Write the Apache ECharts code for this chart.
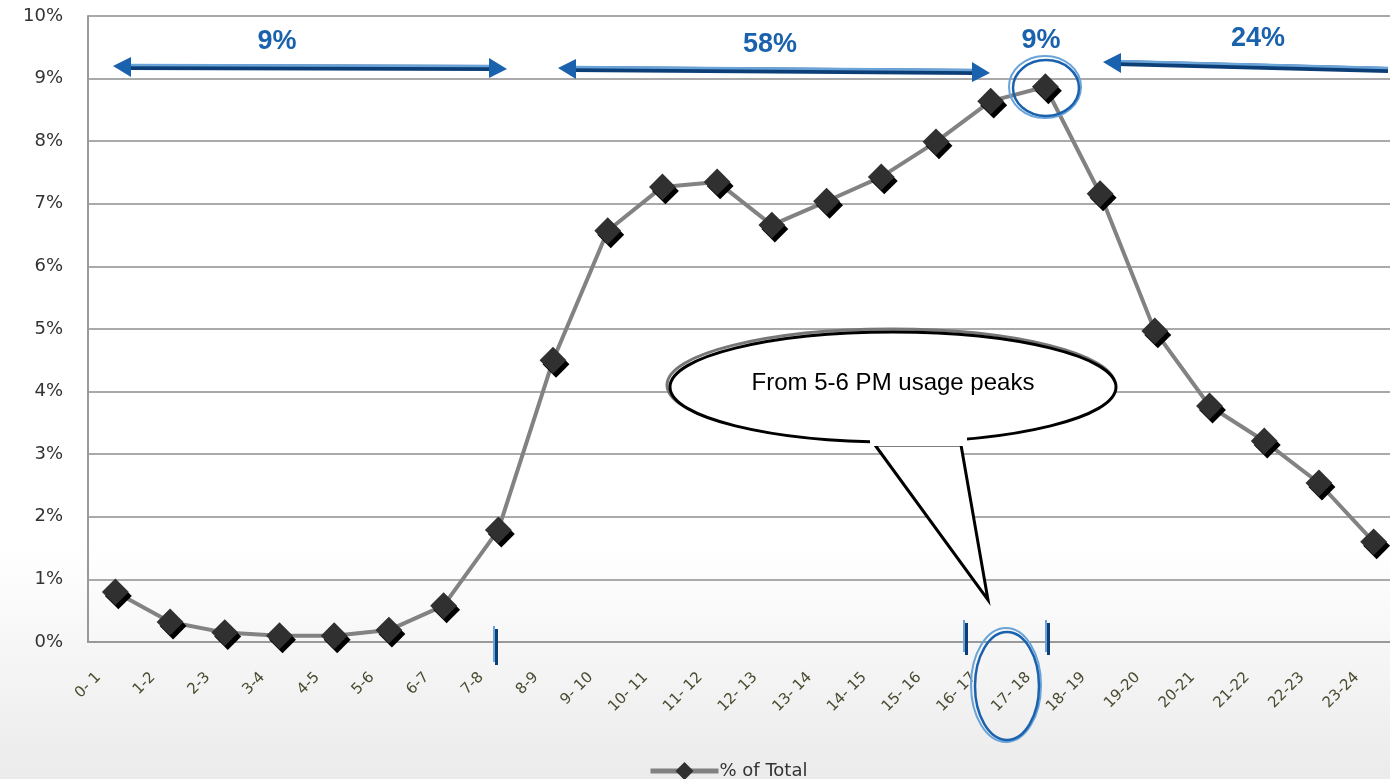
<!DOCTYPE html>
<html>
<head>
<meta charset="utf-8">
<script src="https://cdn.jsdelivr.net/npm/echarts@6/dist/echarts.min.js"></script>
<style>
html,body{margin:0;padding:0;background:#fff;overflow:hidden;width:1390px;height:779px;}
#c{width:1420px;height:779px;}
</style>
</head>
<body>
<div id="c"></div>
<script>
const categories = ["0- 1","1-2","2-3","3-4","4-5","5-6","6-7","7-8","8-9","9- 10","10- 11","11- 12","12- 13","13- 14","14- 15","15- 16","16- 17","17- 18","18- 19","19-20","20-21","21-22","22-23","23-24"];
const pctOfTotal = [0.80,0.32,0.15,0.10,0.10,0.19,0.58,1.79,4.50,6.57,7.27,7.35,6.66,7.04,7.43,7.99,8.64,8.87,7.16,4.97,3.77,3.21,2.54,1.60];
const yTicks = [0,1,2,3,4,5,6,7,8,9,10];
const seriesName = "% of Total";
const spanLabels = ["9%","58%","9%","24%"];
const calloutText = "From 5-6 PM usage peaks";

const chart = echarts.init(document.getElementById('c'));

const BLUE = '#1a62ad', BLUE_L = '#6aa3d8', BLUE_D = '#0c3f78';

function dblArrow(x1, y1, x2, y2, leftHead, rightHead) {
  const els = [];
  els.push({type:'line', shape:{x1:x1+10,y1:y1,x2:x2-10,y2:y2}, style:{stroke:BLUE_D,lineWidth:6}, z:50});
  els.push({type:'line', shape:{x1:x1+10,y1:y1-2,x2:x2-10,y2:y2-2}, style:{stroke:BLUE_L,lineWidth:2.5}, z:51});
  if (leftHead) els.push({type:'polygon', shape:{points:[[x1-4,y1-1],[x1+14,y1-10],[x1+14,y1+10]]}, style:{fill:BLUE}, z:52});
  if (rightHead) els.push({type:'polygon', shape:{points:[[x2+4,y2+1],[x2-14,y2-10],[x2-14,y2+10]]}, style:{fill:BLUE}, z:52});
  return els;
}
function spanText(x, y, t) {
  return {type:'text', x:x, y:y, style:{text:t, fill:BLUE, font:'bold 27px "Liberation Sans", Arial, sans-serif', textAlign:'center', textVerticalAlign:'middle'}, z:53};
}
function dblEllipse(cx, cy, rx, ry) {
  return [
    {type:'ellipse', shape:{cx:cx, cy:cy, rx:rx, ry:ry}, style:{fill:'none', stroke:BLUE_L, lineWidth:2}, z:55},
    {type:'ellipse', shape:{cx:cx+1, cy:cy+1, rx:rx-3, ry:ry-3}, style:{fill:'none', stroke:BLUE, lineWidth:2.5}, z:55}
  ];
}
function tickBar(x, y1, y2) {
  return [
    {type:'rect', shape:{x:x, y:y1, width:2, height:y2-y1}, style:{fill:BLUE_L}, z:55},
    {type:'rect', shape:{x:x+2, y:y1+3, width:3, height:y2-y1}, style:{fill:BLUE_D}, z:55}
  ];
}

let graphics = [];
graphics = graphics.concat(dblArrow(117, 67, 503, 68, true, true));
graphics = graphics.concat(dblArrow(562, 69, 986, 72, true, true));
graphics = graphics.concat(dblArrow(1107, 63, 1398, 70, true, false));
graphics.push(spanText(277, 42, spanLabels[0]));
graphics.push(spanText(770, 45, spanLabels[1]));
graphics.push(spanText(1041, 41, spanLabels[2]));
graphics.push(spanText(1258, 39, spanLabels[3]));
graphics = graphics.concat(dblEllipse(1045, 87, 36, 31));
graphics = graphics.concat(dblEllipse(1006, 685, 35, 57));
graphics = graphics.concat(tickBar(493, 626, 662));
graphics = graphics.concat(tickBar(963, 620, 652));
graphics = graphics.concat(tickBar(1045, 620, 652));
// callout bubble
graphics.push({type:'ellipse', shape:{cx:891, cy:385, rx:224, ry:56}, style:{fill:'#fff', stroke:'#777', lineWidth:3}, z:60});
graphics.push({type:'ellipse', shape:{cx:893, cy:387, rx:223, ry:55}, style:{fill:'#fff', stroke:'#000', lineWidth:3}, z:61});
graphics.push({type:'polygon', shape:{points:[[875,445],[988,600],[961,445]]}, style:{fill:'#fff', stroke:'#000', lineWidth:3, lineJoin:'miter'}, z:62});
graphics.push({type:'rect', shape:{x:870, y:436, width:97, height:10}, style:{fill:'#fff'}, z:63});
graphics.push({type:'text', x:893, y:383, style:{text:calloutText, fill:'#000', font:'24px "Liberation Sans", Arial, sans-serif', textAlign:'center', textVerticalAlign:'middle'}, z:64});

chart.setOption({
  animation:false,
  backgroundColor:{type:'linear', x:0, y:0, x2:0, y2:1, colorStops:[{offset:0,color:'#ffffff'},{offset:0.70,color:'#ffffff'},{offset:1,color:'#ebebeb'}]},
  grid:{left:88, top:16, width:1313, height:626, containLabel:false},
  legend:{
    top:757, left:643,
    itemWidth:68, itemHeight:16, itemGap:0,
    lineStyle:{width:5, color:'#828282'},
    textStyle:{fontFamily:'"DejaVu Sans", Verdana, sans-serif', fontSize:18, color:'#333', padding:[0,0,0,-4]},
    data:[seriesName]
  },
  xAxis:{
    type:'category', data:categories, boundaryGap:true,
    axisLine:{lineStyle:{color:'#999', width:2}},
    axisTick:{show:false},
    axisLabel:{rotate:45, interval:0, fontFamily:'"DejaVu Sans", Verdana, sans-serif', fontSize:15, color:'#4a4a30', margin:16, padding:[0,24,0,0]},
    splitLine:{show:false}
  },
  yAxis:{
    type:'value', min:yTicks[0], max:yTicks[yTicks.length-1], interval:1,
    axisLine:{show:true, lineStyle:{color:'#999', width:2}},
    axisTick:{show:false},
    axisLabel:{formatter:'{value}%', fontFamily:'"DejaVu Sans", Verdana, sans-serif', fontSize:18, color:'#333', margin:25},
    splitLine:{lineStyle:{color:'#aaa', width:2}}
  },
  series:[{
    name:seriesName, type:'line', data:pctOfTotal,
    lineStyle:{color:'#828282', width:4},
    symbol:'rect', symbolSize:19, symbolRotate:45,
    itemStyle:{color:'#303030', shadowColor:'#000', shadowOffsetX:3, shadowOffsetY:4, shadowBlur:0},
    z:10
  }],
  graphic:graphics
});
</script>
</body>
</html>
